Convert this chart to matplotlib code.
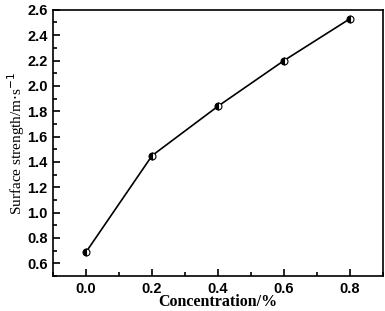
import matplotlib.pyplot as plt
from matplotlib.ticker import MultipleLocator

concentration = [0.0, 0.2, 0.4, 0.6, 0.8]
surface_strength = [0.69, 1.45, 1.84, 2.20, 2.53]

fig = plt.figure(figsize=(3.85, 3.11), dpi=100)
ax = fig.add_axes([0.138, 0.1125, 0.857, 0.856])

ax.plot(concentration, surface_strength, color='black', linewidth=1.2,
        marker='o', markersize=5, fillstyle='left', markerfacecolor='black',
        markerfacecoloralt='white', markeredgecolor='black', markeredgewidth=0.8)

ax.set_xlim(-0.1, 0.9)
ax.set_ylim(0.5, 2.6)
ax.xaxis.set_major_locator(MultipleLocator(0.2))
ax.xaxis.set_minor_locator(MultipleLocator(0.1))
ax.yaxis.set_major_locator(MultipleLocator(0.2))
ax.yaxis.set_minor_locator(MultipleLocator(0.1))
ax.tick_params(which='both', direction='in', top=False, right=False, width=1.2)
ax.tick_params(which='major', length=5, labelsize=10.5, pad=4)
ax.tick_params(which='minor', length=3)
for lab in ax.get_xticklabels() + ax.get_yticklabels():
    lab.set_fontfamily('Liberation Sans')
    lab.set_fontweight('bold')
for sp in ax.spines.values():
    sp.set_linewidth(1.2)

ax.set_xlabel('Concentration/%', fontfamily='Liberation Serif', fontweight='bold',
              fontsize=11.5)
ax.set_ylabel('Surface strength/m$\\cdot$s$^{-1}$', fontfamily='Liberation Serif',
              fontsize=11)
ax.xaxis.set_label_coords(0.5, -0.068)
ax.yaxis.set_label_coords(-0.08, 0.5)

fig.savefig('out.png', dpi=100)
